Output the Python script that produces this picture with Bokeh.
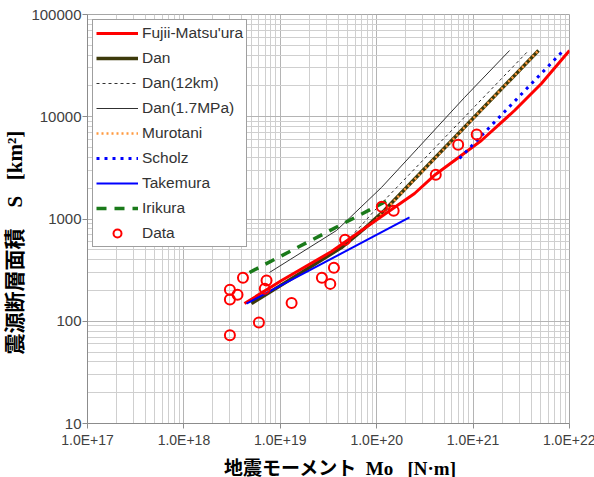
from bokeh.plotting import figure
from bokeh.models import Legend, LegendItem, FixedTicker
from bokeh.embed import file_html
from bokeh.resources import INLINE

# ---- data ----
x_ticks = [1e17, 1e18, 1e19, 1e20, 1e21, 1e22]
x_tick_labels = ["1.0E+17", "1.0E+18", "1.0E+19", "1.0E+20", "1.0E+21", "1.0E+22"]
y_ticks = [10, 100, 1000, 10000, 100000]
y_tick_labels = ["10", "100", "1000", "10000", "100000"]

fm_mo = [4.25e18, 1.03e19, 3.4e19, 1.12e20, 2.47e20, 4.07e20, 7.06e20, 1.22e21, 2.69e21, 5.12e21, 1.0e22]
fm_s = [149, 250, 481, 1058, 1776, 2725, 3992, 5857, 11510, 21150, 44440]

dan_mo = [5.03e18, 1.66e19, 4.31e19, 7.47e19, 1.2e20, 4.77e21]
dan_s = [149, 300, 526, 807, 1211, 44440]

dan12_mo = [5.03e18, 1.66e19, 4.31e19, 9.5e19, 3.76e21]
dan12_s = [149, 300, 526, 1210, 44400]

dan17_mo = [7.73e18, 3.83e19, 1.12e20, 2.71e20, 8.14e20, 2.39e21]
dan17_s = [300, 772, 2032, 5005, 15430, 44440]

murotani_mo = [1.0e20, 4.77e21]
murotani_s = [1000, 44440]

scholz_mo = [7.23e20, 8.26e21]
scholz_s = [3906, 42500]

takemura_mo = [4.46e18, 2.19e20]
takemura_s = [149, 1035]

irikura_mo = [4.79e18, 1.36e20]
irikura_s = [300, 1552]

data_mo = [3.0e18, 3.0e18, 3.0e18, 3.6e18, 4.1e18, 6.0e18, 6.9e18, 7.2e18, 1.31e19,
           2.7e19, 3.3e19, 3.6e19, 4.7e19, 1.13e20, 1.5e20, 4.1e20, 7.0e20, 1.09e21]
data_s = [203, 163, 73, 182, 266, 97, 208, 250, 151,
          266, 232, 333, 626, 1316, 1203, 2706, 5317, 6700]

legend_names = ["Fujii-Matsu'ura", "Dan", "Dan(12km)", "Dan(1.7MPa)", "Murotani",
                "Scholz", "Takemura", "Irikura", "Data"]

NB = "\u00a0"
x_title = NB * 5 + "地震モーメント" + NB * 2 + "Mo" + NB * 3 + "[N·m]"
y_title = "震源断層面積" + NB * 4 + "S" + NB * 3 + "[km²]" + NB * 9
title_font = "'Liberation Serif', 'Noto Sans CJK JP'"

# ---- figure ----
p = figure(x_axis_type="log", y_axis_type="log",
           x_range=(1e17, 1e22), y_range=(10, 1e5),
           frame_width=482, frame_height=409,
           min_border_left=86, min_border_right=26, min_border_top=14, min_border_bottom=54,
           output_backend="svg", toolbar_location=None)
p.background_fill_color = "white"
p.border_fill_color = "white"
p.outline_line_color = "#a6a6a6"

x_minor = [m * t for t in x_ticks[:-1] for m in range(2, 10)]
y_minor = [m * t for t in y_ticks[:-1] for m in range(2, 10)]
xt = FixedTicker(ticks=x_ticks, minor_ticks=x_minor)
yt = FixedTicker(ticks=y_ticks, minor_ticks=y_minor)
p.xaxis.ticker = xt
p.yaxis.ticker = yt
p.xgrid.ticker = xt
p.ygrid.ticker = yt
p.xaxis.major_label_overrides = {t: l for t, l in zip(x_ticks, x_tick_labels)}
p.yaxis.major_label_overrides = {t: l for t, l in zip(y_ticks, y_tick_labels)}

for ax in (p.xaxis[0], p.yaxis[0]):
    ax.axis_line_color = "#8c8c8c"
    ax.major_tick_line_color = "#8c8c8c"
    ax.major_tick_out = 5
    ax.major_tick_in = 0
    ax.minor_tick_out = 0
    ax.minor_tick_in = 0
    ax.major_label_text_font = "Liberation Sans"
    ax.major_label_text_color = "#404040"
    ax.axis_label_text_font = title_font
    ax.axis_label_text_font_style = "bold"
    ax.axis_label_text_color = "black"
p.xaxis.major_label_text_font_size = "14px"
p.yaxis.major_label_text_font_size = "15px"
p.xaxis.major_label_standoff = 3
p.yaxis.major_label_standoff = 1
p.xaxis.axis_label = x_title
p.yaxis.axis_label = y_title
p.xaxis.axis_label_text_font_size = "19px"
p.yaxis.axis_label_text_font_size = "21px"
p.xaxis.axis_label_standoff = 7
p.yaxis.axis_label_standoff = 1

for g in (p.xgrid[0], p.ygrid[0]):
    g.grid_line_color = "#b4b4b4"
    g.minor_grid_line_color = "#cfcfcf"

# ---- series ----
r_dan12 = p.line(dan12_mo, dan12_s, line_color="#303030", line_width=1, line_dash="3 3")
r_dan17 = p.line(dan17_mo, dan17_s, line_color="#303030", line_width=1)
r_dan = p.line(dan_mo, dan_s, line_color="#3d3a0b", line_width=3.5)
r_muro = p.line(murotani_mo, murotani_s, line_color="#ff9a40", line_width=2.5, line_dash="2 3")
r_fm = p.line(fm_mo, fm_s, line_color="#ff0000", line_width=3)
r_sch = p.line(scholz_mo, scholz_s, line_color="#0000ff", line_width=3, line_dash="3 5")
r_take = p.line(takemura_mo, takemura_s, line_color="#0000ff", line_width=2)
r_iri = p.line(irikura_mo, irikura_s, line_color="#1a7a1a", line_width=3.5, line_dash="10 8")
r_data = p.scatter(data_mo, data_s, marker="circle", size=10, fill_color=None,
                   line_color="#ff0000", line_width=2)

renders = [r_fm, r_dan, r_dan12, r_dan17, r_muro, r_sch, r_take, r_iri, r_data]
legend = Legend(items=[LegendItem(label=n, renderers=[r]) for n, r in zip(legend_names, renders)],
                location="top_left", margin=5, padding=3, spacing=5,
                glyph_width=42, glyph_height=20, label_height=20, label_standoff=4,
                label_text_font="Liberation Sans", label_text_font_size="15.5px",
                label_text_color="#333333",
                border_line_color="#404040", border_line_width=1,
                background_fill_color="white", background_fill_alpha=1.0)
p.add_layout(legend, "center")

open("out.html", "w").write(file_html(p, INLINE))
